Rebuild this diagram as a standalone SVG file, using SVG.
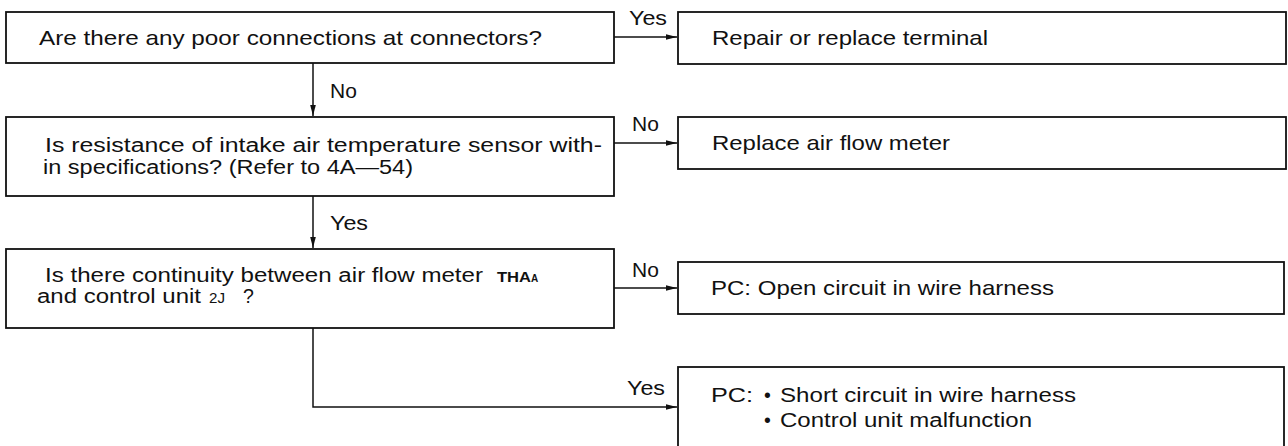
<svg xmlns="http://www.w3.org/2000/svg" width="1288" height="446" viewBox="0 0 1288 446">
<style>
  .box { fill: #fff; stroke: #111; stroke-width: 1.8; }
  .t { font-family: "Liberation Sans", Arial, sans-serif; font-size: 21px; fill: #111; }
  .t2 { font-family: "Liberation Sans", Arial, sans-serif; font-size: 19.5px; fill: #111; }
  .lbl { font-family: "Liberation Sans", Arial, sans-serif; font-size: 21px; fill: #111; }
  .sc { font-family: "Liberation Sans", Arial, sans-serif; fill: #111; }
  .ln { fill: none; stroke: #111; stroke-width: 1.5; }
</style>
<defs>
  <marker id="ah" markerUnits="userSpaceOnUse" markerWidth="12" markerHeight="8" refX="11" refY="4" orient="auto">
    <path d="M0,1.2 L11,4 L0,6.8 Z" fill="#111"/>
  </marker>
</defs>
<rect width="1288" height="446" fill="#fff"/>

<g id="connectors">
  <line class="ln" x1="614" y1="37" x2="677" y2="37" marker-end="url(#ah)"/>
  <line class="ln" x1="313" y1="63" x2="313" y2="116" marker-end="url(#ah)"/>
  <line class="ln" x1="614" y1="143" x2="677" y2="143" marker-end="url(#ah)"/>
  <line class="ln" x1="313" y1="196" x2="313" y2="248" marker-end="url(#ah)"/>
  <line class="ln" x1="614" y1="288" x2="677" y2="288" marker-end="url(#ah)"/>
  <polyline class="ln" points="313,328 313,407 677,407" marker-end="url(#ah)"/>
  <text class="lbl" x="629" y="25" textLength="38" lengthAdjust="spacingAndGlyphs">Yes</text>
  <text class="lbl" x="330" y="98">No</text>
  <text class="lbl" x="632" y="131">No</text>
  <text class="lbl" x="330" y="230" textLength="38" lengthAdjust="spacingAndGlyphs">Yes</text>
  <text class="lbl" x="632" y="277">No</text>
  <text class="lbl" x="627" y="395" textLength="38" lengthAdjust="spacingAndGlyphs">Yes</text>
</g>

<g id="q1">
  <rect class="box" x="6" y="12" width="608" height="51"/>
  <text class="t" x="39" y="45" textLength="503" lengthAdjust="spacingAndGlyphs">Are there any poor connections at connectors?</text>
</g>

<g id="q2">
  <rect class="box" x="6" y="117" width="608" height="79"/>
  <text class="t2" x="45" y="152" textLength="557" lengthAdjust="spacingAndGlyphs">Is resistance of intake air temperature sensor with-</text>
  <text class="t2" x="43" y="174" textLength="370" lengthAdjust="spacingAndGlyphs">in specifications? (Refer to 4A—54)</text>
</g>

<g id="q3">
  <rect class="box" x="6" y="249" width="608" height="79"/>
  <text class="t2" x="45" y="282" textLength="438" lengthAdjust="spacingAndGlyphs">Is there continuity between air flow meter</text>
  <text class="sc" x="497" y="282" font-size="14" font-weight="bold" textLength="34" lengthAdjust="spacingAndGlyphs">THA</text>
  <text class="sc" x="531" y="282" font-size="10" font-weight="bold">A</text>
  <text class="t2" x="37" y="303" textLength="164" lengthAdjust="spacingAndGlyphs">and control unit</text>
  <text class="sc" x="209" y="303" font-size="14" textLength="16" lengthAdjust="spacingAndGlyphs">2J</text>
  <text class="t2" x="243" y="303">?</text>
</g>

<g id="r1">
  <rect class="box" x="678" y="12" width="608" height="52"/>
  <text class="t" x="712" y="45" textLength="276" lengthAdjust="spacingAndGlyphs">Repair or replace terminal</text>
</g>

<g id="r2">
  <rect class="box" x="678" y="117" width="608" height="52"/>
  <text class="t" x="712" y="150" textLength="238" lengthAdjust="spacingAndGlyphs">Replace air flow meter</text>
</g>

<g id="r3">
  <rect class="box" x="678" y="262" width="606" height="52"/>
  <text class="t" x="711" y="295" textLength="343" lengthAdjust="spacingAndGlyphs">PC: Open circuit in wire harness</text>
</g>

<g id="r4">
  <rect class="box" x="678" y="367" width="606" height="90"/>
  <text class="t2" x="711" y="402" textLength="42" lengthAdjust="spacingAndGlyphs">PC:</text>
  <text class="t2" x="764" y="402">•</text>
  <text class="t2" x="780" y="402" textLength="296" lengthAdjust="spacingAndGlyphs">Short circuit in wire harness</text>
  <text class="t2" x="764" y="427">•</text>
  <text class="t2" x="780" y="427" textLength="252" lengthAdjust="spacingAndGlyphs">Control unit malfunction</text>
</g>
</svg>
